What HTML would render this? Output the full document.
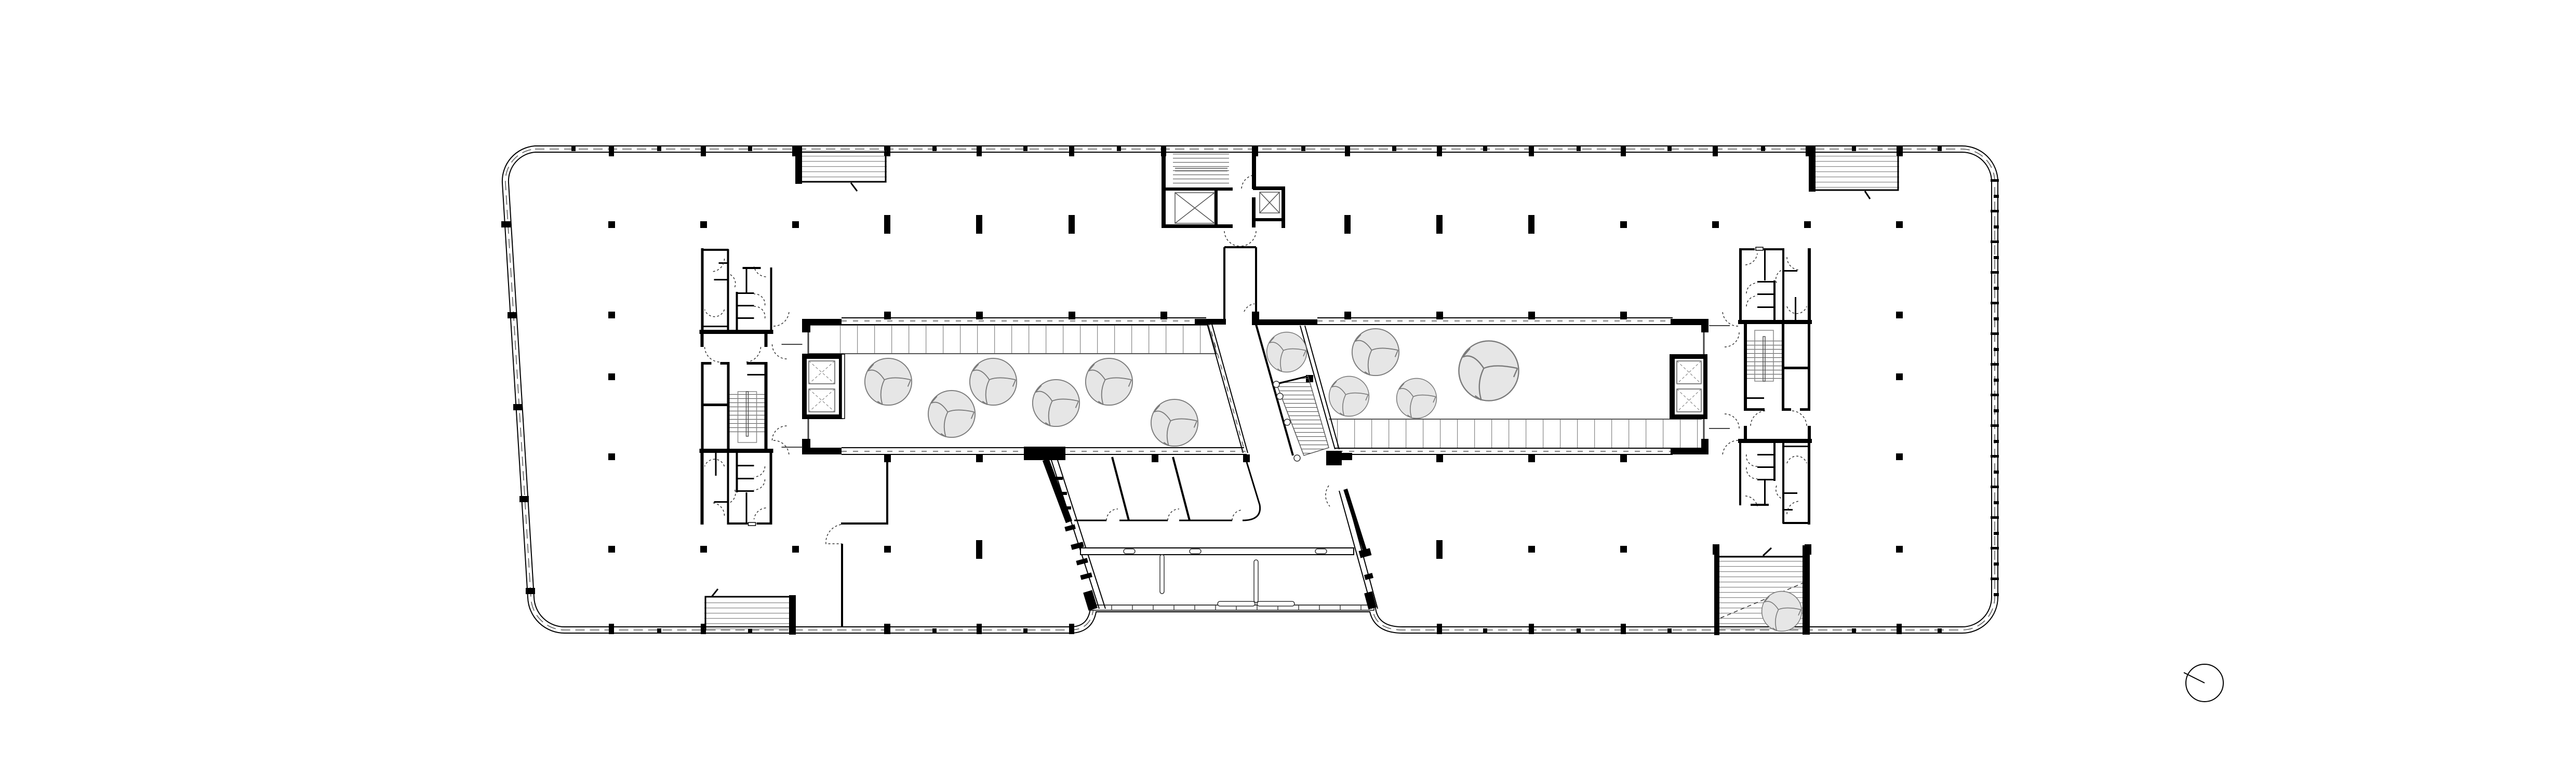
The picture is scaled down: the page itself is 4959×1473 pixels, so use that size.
<!DOCTYPE html>
<html><head><meta charset="utf-8"><style>html,body{margin:0;padding:0;background:#fff}svg{display:block}</style></head>
<body>
<svg xmlns="http://www.w3.org/2000/svg" width="4959" height="1473" viewBox="0 0 4959 1473">
<defs>
<path id="per" d="M1030,287 L3777,287 A63,63 0 0 1 3840,350 L3840,1150 A63,63 0 0 1 3777,1213 L2700,1213 Q2648,1213 2642,1172 L2105,1172 Q2100,1213 2060,1213 L1088,1213 A65,65 0 0 1 1022,1150 L973,352 A62,62 0 0 1 1030,287 Z"/>
<symbol id="tree" viewBox="-50 -50 100 100" overflow="visible">
<circle cx="0" cy="0" r="48" fill="#e6e6e6" stroke="#7a7a7a" stroke-width="2"/>
<path d="M-8,-4 Q-25,-30 -42,-22 M-8,-4 Q10,-12 46,-4 M-8,-4 Q-20,20 -12,47 M-42,-22 L-30,-36 M46,-4 L40,10 M-12,47 L-22,40" fill="none" stroke="#7a7a7a" stroke-width="2"/>
</symbol>
<pattern id="treadV" width="33" height="10" patternUnits="userSpaceOnUse"><line x1="0.5" y1="0" x2="0.5" y2="10" stroke="#888" stroke-width="1.5"/></pattern>
<pattern id="treadH" width="10" height="10" patternUnits="userSpaceOnUse"><line x1="0" y1="0.5" x2="10" y2="0.5" stroke="#888" stroke-width="1.5"/></pattern>
<pattern id="treadS" width="10" height="8" patternUnits="userSpaceOnUse"><line x1="0" y1="0.5" x2="10" y2="0.5" stroke="#555" stroke-width="1.2"/></pattern>
<g id="core">
 <rect x="3348" y="478" width="5" height="141" fill="#000"/>
 <rect x="3348" y="478" width="30" height="4" fill="#000"/>
 <rect x="3395" y="478" width="40" height="4" fill="#000"/>
 <rect x="3380" y="476" width="14" height="6" fill="none" stroke="#000" stroke-width="1.5"/>
 <rect x="3431" y="480" width="4" height="139" fill="#000"/>
 <rect x="3414" y="540" width="4" height="79" fill="#000"/>
 <rect x="3383" y="541" width="33" height="3" fill="#000"/>
 <rect x="3383" y="565" width="33" height="3" fill="#000"/>
 <rect x="3383" y="590" width="33" height="3" fill="#000"/>
 <rect x="3396" y="480" width="3" height="60" fill="#000"/>
 <rect x="3435" y="520" width="25" height="3" fill="#000"/>
 <rect x="3455" y="572" width="3" height="44" fill="#000"/>
 <rect x="3480" y="478" width="6" height="141" fill="#000"/>
 <rect x="3346" y="616" width="142" height="8" fill="#000"/>
 <rect x="3357" y="619" width="6" height="172" fill="#000"/>
 <rect x="3430" y="619" width="5" height="172" fill="#000"/>
 <rect x="3480" y="619" width="5" height="172" fill="#000"/>
 <rect x="3435" y="706" width="47" height="5" fill="#000"/>
 <rect x="3363" y="650" width="67" height="84" fill="url(#treadS)"/>
 <rect x="3378" y="636" width="36" height="98" fill="none" stroke="#888" stroke-width="1.5"/>
 <rect x="3394" y="648" width="4" height="86" fill="none" stroke="#555" stroke-width="1.5"/>
 <rect x="3357" y="786" width="40" height="5" fill="#000"/>
 <rect x="3430" y="786" width="18" height="5" fill="#000"/>
 <rect x="3465" y="786" width="20" height="5" fill="#000"/>
 <rect x="3363" y="765" width="33" height="3" fill="#000"/>
 <rect x="3346" y="845" width="142" height="8" fill="#000"/>
 <rect x="3357" y="820" width="6" height="28" fill="#000"/>
 <rect x="3480" y="820" width="6" height="28" fill="#000"/>
 <rect x="3348" y="848" width="4" height="125" fill="#000"/>
 <rect x="3414" y="848" width="4" height="78" fill="#000"/>
 <rect x="3383" y="874" width="33" height="3" fill="#000"/>
 <rect x="3383" y="898" width="33" height="3" fill="#000"/>
 <rect x="3383" y="922" width="33" height="3" fill="#000"/>
 <rect x="3396" y="925" width="3" height="48" fill="#000"/>
 <rect x="3370" y="970" width="35" height="4" fill="#000"/>
 <rect x="3431" y="850" width="4" height="158" fill="#000"/>
 <rect x="3435" y="858" width="47" height="3" fill="#000"/>
 <rect x="3435" y="948" width="25" height="3" fill="#000"/>
 <rect x="3435" y="980" width="16" height="3" fill="#000"/>
 <rect x="3480" y="848" width="5" height="162" fill="#000"/>
 <rect x="3432" y="1005" width="53" height="4" fill="#000"/>
 <g fill="none" stroke="#333" stroke-width="1.5" stroke-dasharray="4 4">
  <path d="M3360,510 A25,25 0 0 0 3383,488"/><path d="M3440,495 A25,25 0 0 0 3465,520"/>
  <path d="M3362,565 A20,20 0 0 1 3383,545"/><path d="M3362,590 A20,20 0 0 1 3383,570"/>
  <path d="M3440,590 A20,20 0 0 0 3478,590"/><path d="M3420,545 A20,20 0 0 1 3430,520"/>
  <path d="M3362,875 A20,20 0 0 0 3383,898"/><path d="M3362,900 A20,20 0 0 0 3383,922"/>
  <path d="M3440,892 A20,20 0 0 1 3478,892"/><path d="M3420,935 A20,20 0 0 0 3430,960"/>
  <path d="M3360,955 A25,25 0 0 1 3383,975"/><path d="M3440,990 A25,25 0 0 1 3465,965"/>
  <path d="M3398,791 A30,30 0 0 0 3370,820"/><path d="M3450,791 A30,30 0 0 1 3478,820"/>
  <path d="M3348,640 A28,28 0 0 1 3320,668"/><path d="M3348,825 A28,28 0 0 0 3320,797"/>
 </g>
 <path d="M3290,627 L3330,627 M3290,825 L3330,825" stroke="#444" stroke-width="2"/>
</g>
</defs>

<rect width="4959" height="1473" fill="#fff"/>

<!-- perimeter facade -->
<g fill="none" stroke-linejoin="round">
<use href="#per" stroke="#000" stroke-width="14"/>
<use href="#per" stroke="#fff" stroke-width="10"/>
<use href="#per" stroke="#555" stroke-width="1.5" stroke-dasharray="18 10"/>
</g>
<rect x="2100" y="1165" width="545" height="10" fill="#fff" stroke="#000" stroke-width="1.5"/>
<g stroke="#444" stroke-width="1.5">
<path d="M2140,1165v10M2180,1165v10M2220,1165v10M2260,1165v10M2300,1165v10M2340,1165v10M2380,1165v10M2420,1165v10M2460,1165v10M2500,1165v10M2540,1165v10M2580,1165v10M2620,1165v10"/>
</g>

<g fill="#000">
<rect x="1172" y="281" width="10" height="20"/><rect x="1349" y="281" width="10" height="20"/><rect x="1525" y="281" width="12" height="20"/><rect x="1702" y="281" width="12" height="20"/><rect x="1880" y="281" width="10" height="20"/><rect x="2058" y="281" width="10" height="20"/><rect x="2235" y="281" width="10" height="20"/><rect x="2412" y="281" width="10" height="20"/><rect x="2589" y="281" width="10" height="20"/><rect x="2766" y="281" width="10" height="20"/><rect x="2943" y="281" width="10" height="20"/><rect x="3120" y="281" width="10" height="20"/><rect x="3297" y="281" width="10" height="20"/><rect x="3476" y="281" width="12" height="20"/><rect x="3651" y="281" width="12" height="20"/>
<rect x="1100" y="281" width="8" height="10"/><rect x="1265" y="281" width="8" height="10"/><rect x="1440" y="281" width="8" height="10"/><rect x="1795" y="281" width="8" height="10"/><rect x="1970" y="281" width="8" height="10"/><rect x="2150" y="281" width="8" height="10"/><rect x="2505" y="281" width="8" height="10"/><rect x="2680" y="281" width="8" height="10"/><rect x="2855" y="281" width="8" height="10"/><rect x="3035" y="281" width="8" height="10"/><rect x="3210" y="281" width="8" height="10"/><rect x="3390" y="281" width="8" height="10"/><rect x="3565" y="281" width="8" height="10"/><rect x="3730" y="281" width="8" height="10"/>
<rect x="1172" y="1201" width="10" height="20"/><rect x="1349" y="1201" width="10" height="20"/><rect x="1702" y="1201" width="12" height="20"/><rect x="1880" y="1201" width="10" height="20"/><rect x="2058" y="1201" width="10" height="20"/><rect x="2766" y="1201" width="10" height="20"/><rect x="2943" y="1201" width="10" height="20"/><rect x="3120" y="1201" width="10" height="20"/><rect x="3651" y="1201" width="10" height="20"/>
<rect x="1265" y="1210" width="8" height="10"/><rect x="1440" y="1210" width="8" height="10"/><rect x="1795" y="1210" width="8" height="10"/><rect x="1970" y="1210" width="8" height="10"/><rect x="2855" y="1210" width="8" height="10"/><rect x="3035" y="1210" width="8" height="10"/><rect x="3210" y="1210" width="8" height="10"/><rect x="3565" y="1210" width="8" height="10"/><rect x="3730" y="1210" width="8" height="10"/>
<rect x="965" y="426" width="18" height="12"/><rect x="977" y="601" width="18" height="12"/><rect x="988" y="778" width="18" height="12"/><rect x="1000" y="955" width="18" height="12"/><rect x="1012" y="1132" width="18" height="12"/>
<rect x="3832" y="345" width="16" height="5"/><rect x="3838" y="375" width="10" height="6"/><rect x="3832" y="404" width="16" height="5"/><rect x="3838" y="434" width="10" height="6"/><rect x="3832" y="463" width="16" height="5"/><rect x="3838" y="493" width="10" height="6"/><rect x="3832" y="522" width="16" height="5"/><rect x="3838" y="552" width="10" height="6"/><rect x="3832" y="581" width="16" height="5"/><rect x="3838" y="611" width="10" height="6"/><rect x="3832" y="640" width="16" height="5"/><rect x="3838" y="670" width="10" height="6"/><rect x="3832" y="699" width="16" height="5"/><rect x="3838" y="729" width="10" height="6"/><rect x="3832" y="758" width="16" height="5"/><rect x="3838" y="788" width="10" height="6"/><rect x="3832" y="817" width="16" height="5"/><rect x="3838" y="847" width="10" height="6"/><rect x="3832" y="876" width="16" height="5"/><rect x="3838" y="906" width="10" height="6"/><rect x="3832" y="935" width="16" height="5"/><rect x="3838" y="965" width="10" height="6"/><rect x="3832" y="994" width="16" height="5"/><rect x="3838" y="1024" width="10" height="6"/><rect x="3832" y="1053" width="16" height="5"/><rect x="3838" y="1083" width="10" height="6"/><rect x="3832" y="1112" width="16" height="5"/><rect x="3838" y="1142" width="10" height="6"/>
</g>

<g fill="#000">
<rect x="1171" y="426" width="13" height="13"/><rect x="1348" y="426" width="13" height="13"/><rect x="1525" y="426" width="13" height="13"/>
<rect x="1702" y="414" width="12" height="36"/><rect x="1879" y="414" width="12" height="36"/><rect x="2057" y="414" width="12" height="36"/>
<rect x="2588" y="414" width="12" height="36"/><rect x="2765" y="414" width="12" height="36"/><rect x="2942" y="414" width="12" height="36"/>
<rect x="3119" y="426" width="13" height="13"/><rect x="3296" y="426" width="13" height="13"/><rect x="3473" y="426" width="13" height="13"/><rect x="3650" y="426" width="13" height="13"/>
<rect x="1171" y="600" width="13" height="13"/><rect x="1702" y="600" width="13" height="15"/><rect x="1879" y="600" width="13" height="15"/><rect x="2057" y="600" width="13" height="15"/><rect x="2234" y="600" width="13" height="15"/><rect x="2588" y="600" width="13" height="15"/><rect x="2765" y="600" width="13" height="15"/><rect x="2942" y="600" width="13" height="15"/><rect x="3119" y="600" width="13" height="15"/><rect x="3650" y="600" width="13" height="13"/>
<rect x="1171" y="719" width="13" height="13"/><rect x="3650" y="719" width="13" height="13"/>
<rect x="1171" y="873" width="13" height="13"/><rect x="1702" y="875" width="13" height="15"/><rect x="1879" y="875" width="13" height="15"/><rect x="2217" y="875" width="13" height="15"/><rect x="2393" y="875" width="13" height="15"/><rect x="2765" y="875" width="13" height="15"/><rect x="2942" y="875" width="13" height="15"/><rect x="3119" y="875" width="13" height="15"/><rect x="3650" y="873" width="13" height="13"/>
<rect x="1171" y="1051" width="13" height="13"/><rect x="1348" y="1051" width="13" height="13"/><rect x="1525" y="1051" width="13" height="13"/><rect x="1702" y="1051" width="13" height="13"/><rect x="1879" y="1040" width="12" height="36"/><rect x="2765" y="1040" width="12" height="36"/><rect x="2942" y="1051" width="13" height="13"/><rect x="3119" y="1051" width="13" height="13"/><rect x="3297" y="1048" width="13" height="20"/><rect x="3474" y="1048" width="13" height="20"/><rect x="3650" y="1051" width="13" height="13"/>
</g>

<g>
<rect x="1531" y="290" width="176" height="63" fill="url(#treadH)"/>
<rect x="1531" y="281" width="13" height="73" fill="#000"/><path d="M1544,350 H1705 V290" fill="none" stroke="#000" stroke-width="3"/>
<path d="M1638,352 L1650,368" stroke="#000" stroke-width="3"/>
<rect x="3482" y="292" width="174" height="76" fill="url(#treadH)"/>
<rect x="3482" y="281" width="13" height="88" fill="#000"/><path d="M3495,366 H3654 V292" fill="none" stroke="#000" stroke-width="3"/>
<path d="M3590,368 L3600,383" stroke="#000" stroke-width="3"/>
<rect x="1356" y="1152" width="175" height="62" fill="url(#treadH)"/>
<rect x="1519" y="1146" width="13" height="76" fill="#000"/><path d="M1358,1214 V1149 H1519" fill="none" stroke="#000" stroke-width="3"/>
<path d="M1370,1149 L1382,1134" stroke="#000" stroke-width="3"/>
<rect x="3305" y="1070" width="168" height="145" fill="url(#treadH)"/>
<rect x="3470" y="1050" width="14" height="172" fill="#000"/><rect x="3300" y="1068" width="10" height="155" fill="#000"/>
<path d="M3310,1072 H3470" fill="none" stroke="#000" stroke-width="3"/>
<path d="M3394,1070 L3410,1055" stroke="#000" stroke-width="3"/>
<path d="M3312,1190 L3470,1123" stroke="#333" stroke-width="1.5" stroke-dasharray="8 6"/>
<use href="#tree" x="3390" y="1137" width="80" height="80"/>
</g>

<g fill="#000">
<rect x="2236" y="281" width="8" height="158"/><rect x="2236" y="432" width="137" height="7"/>
<rect x="2236" y="361" width="137" height="6"/><rect x="2338" y="363" width="6" height="72"/>
<rect x="2410" y="281" width="8" height="83"/>
<rect x="2412" y="359" width="62" height="7"/><rect x="2467" y="359" width="7" height="80"/><rect x="2417" y="420" width="52" height="6"/>
<rect x="2410" y="380" width="7" height="58"/>
</g>
<rect x="2258" y="292" width="108" height="66" fill="url(#treadS)"/>
<g stroke="#555" stroke-width="1.5" fill="none">
<path d="M2262,324 H2363 M2262,329 H2363"/>
<rect x="2262" y="371" width="76" height="59"/><path d="M2262,371 L2338,430 M2338,371 L2262,430"/>
<rect x="2425" y="370" width="38" height="40"/><path d="M2425,370 L2463,410 M2463,370 L2425,410"/>
</g>
<g stroke="#000" stroke-width="4"><path d="M2357,476 V617 M2418,476 V617 M2357,476 H2418"/></g>
<g fill="none" stroke="#333" stroke-width="1.5" stroke-dasharray="4 4">
<path d="M2357,445 A30,30 0 0 0 2387,474"/><path d="M2418,445 A30,30 0 0 1 2388,474"/>
<path d="M2390,363 A28,28 0 0 1 2410,338"/><path d="M2395,600 A25,25 0 0 1 2415,585"/>
</g>

<!-- left atrium -->
<g>
<path d="M1556,626 H2325 L2395,870 H1556 Z" fill="#fff"/>
<rect x="1586" y="626" width="740" height="55" fill="url(#treadV)"/>
<path d="M1556,626 H2326 L2342,681 H1556" fill="none" stroke="#555" stroke-width="2"/>
<g stroke="#000" stroke-width="2" fill="none">
<path d="M1620,612 H2322 M1620,625 H2326 M1620,862 H2395 M1620,875 H2400 M2322,617 L2393,872 M2331,617 L2402,872"/>
</g>
<path d="M1620,618 H2322 M1620,869 H2398 M2326,617 L2397,872" stroke="#555" stroke-width="1.5" stroke-dasharray="10 12"/>
<path d="M1556,640 V845" stroke="#444" stroke-width="3"/>
<g fill="#000">
<rect x="1544" y="614" width="76" height="12"/><rect x="1544" y="614" width="16" height="26"/>
<rect x="1544" y="845" width="16" height="30"/><rect x="1544" y="862" width="76" height="13"/>
<rect x="1544" y="681" width="79" height="126"/>
<rect x="1971" y="860" width="80" height="26"/>
<rect x="2300" y="614" width="60" height="11"/>
</g>
<rect x="1553" y="691" width="62" height="107" fill="#fff"/>
<rect x="1620" y="682" width="6" height="124" fill="#fff" stroke="#000" stroke-width="1.5"/>
<g fill="#fff" stroke="#555" stroke-width="1.5">
<rect x="1557" y="695" width="50" height="44"/><rect x="1557" y="749" width="50" height="44"/>
</g>
<path d="M1557,695 L1607,739 M1607,695 L1557,739 M1557,749 L1607,793 M1607,749 L1557,793" stroke="#888" stroke-width="1.2" stroke-dasharray="5 4"/>
<use href="#tree" x="1663" y="688" width="94" height="94"/>
<use href="#tree" x="1785" y="750" width="94" height="94"/>
<use href="#tree" x="1865" y="688" width="94" height="94"/>
<use href="#tree" x="1986" y="729" width="94" height="94"/>
<use href="#tree" x="2088" y="688" width="94" height="94"/>
<use href="#tree" x="2214" y="767" width="94" height="94"/>
</g>

<!-- right atrium -->
<g>
<path d="M2418,625 H3276 V863 H2489 Z" fill="#fff"/>
<rect x="2562" y="807" width="714" height="56" fill="url(#treadV)"/>
<path d="M2558,807 H3276" stroke="#555" stroke-width="2"/>
<g stroke="#000" stroke-width="2" fill="none">
<path d="M2536,612 H3220 M2536,625 H3220 M2570,863 H3220 M2575,875 H3220 M2503,627 L2570,865 M2512,627 L2578,865"/>
</g>
<path d="M2536,618 H3220 M2575,869 H3220" stroke="#555" stroke-width="1.5" stroke-dasharray="10 12"/>
<path d="M2418,625 L2489,877" stroke="#000" stroke-width="4"/>
<path d="M3280,640 V845" stroke="#444" stroke-width="3"/>
<g fill="#000">
<rect x="2410" y="615" width="126" height="11"/><rect x="2410" y="600" width="14" height="26"/>
<rect x="3216" y="614" width="73" height="12"/><rect x="3275" y="614" width="14" height="26"/>
<rect x="3275" y="845" width="14" height="30"/><rect x="3216" y="862" width="73" height="13"/>
<rect x="3214" y="682" width="73" height="125"/>
<rect x="2553" y="868" width="30" height="28"/><rect x="2578" y="872" width="25" height="14"/>
<rect x="2514" y="722" width="14" height="14"/>
</g>
<rect x="3224" y="691" width="55" height="107" fill="#fff"/>
<g fill="#fff" stroke="#555" stroke-width="1.5">
<rect x="3228" y="695" width="47" height="44"/><rect x="3228" y="749" width="47" height="44"/>
</g>
<path d="M3228,695 L3275,739 M3275,695 L3228,739 M3228,749 L3275,793 M3275,749 L3228,793" stroke="#888" stroke-width="1.2" stroke-dasharray="5 4"/>
<path d="M2457,738 L2518,724 L2558,862 L2510,877 Z" fill="url(#treadS)" stroke="#555" stroke-width="1.5"/>
<path d="M2455,740 L2515,725" stroke="#000" stroke-width="3"/>
<g fill="#fff" stroke="#333" stroke-width="1.5"><circle cx="2457" cy="740" r="6"/><circle cx="2464" cy="763" r="6"/><circle cx="2478" cy="813" r="6"/><circle cx="2497" cy="882" r="6"/></g>
<use href="#tree" x="2437" y="638" width="80" height="80"/>
<use href="#tree" x="2601" y="631" width="94" height="94"/>
<use href="#tree" x="2557" y="723" width="80" height="80"/>
<use href="#tree" x="2687" y="727" width="80" height="80"/>
<use href="#tree" x="2806" y="654" width="120" height="120"/>
</g>

<use href="#core"/>
<use href="#core" transform="matrix(-1 0 0 -1 4834.5 1488)"/>

<path d="M1708,890 V1008 H1619 M1621,1047 V1208" fill="none" stroke="#000" stroke-width="4"/>
<path d="M1619,1010 A35,35 0 0 0 1590,1047 H1621" fill="none" stroke="#333" stroke-width="1.5" stroke-dasharray="4 4"/>

<g>
<path d="M2013,885 L2058,1005" stroke="#000" stroke-width="13"/>
<path d="M2022,880 L2116,1172 M2034,880 L2128,1172" stroke="#000" stroke-width="2" fill="none"/>
<g fill="#000">
<rect x="2050" y="1012" width="20" height="9" transform="rotate(-15 2060 1016)"/>
<rect x="2062" y="1046" width="24" height="10" transform="rotate(-15 2074 1051)"/>
<rect x="2072" y="1077" width="22" height="9" transform="rotate(-15 2083 1081)"/>
<rect x="2080" y="1105" width="22" height="9" transform="rotate(-15 2091 1109)"/>
<rect x="2090" y="1138" width="18" height="36" transform="rotate(-17 2099 1156)"/>
<rect x="2030" y="918" width="16" height="6"/><rect x="2038" y="947" width="16" height="6"/><rect x="2046" y="975" width="16" height="6"/>
</g>
<path d="M2590,942 L2628,1062" stroke="#000" stroke-width="8"/>
<path d="M2578,945 L2641,1172 M2590,945 L2652,1172" stroke="#000" stroke-width="2" fill="none"/>
<g fill="#000">
<rect x="2617" y="1058" width="22" height="14" transform="rotate(-15 2628 1065)"/>
<rect x="2627" y="1105" width="16" height="10" transform="rotate(-15 2635 1110)"/>
<rect x="2630" y="1140" width="16" height="32" transform="rotate(-15 2638 1156)"/>
</g>
<path d="M2141,880 L2173,1002 M2258,880 L2290,1002" stroke="#000" stroke-width="4"/>
<path d="M2068,1002 H2130 M2155,1002 H2248 M2270,1002 H2372" stroke="#000" stroke-width="3" fill="none"/>
<path d="M2400,890 L2425,972 Q2430,1002 2392,1002" fill="none" stroke="#000" stroke-width="3"/>
<g fill="none" stroke="#333" stroke-width="1.5" stroke-dasharray="4 4">
<path d="M2130,1002 A22,22 0 0 1 2152,980"/><path d="M2248,1002 A22,22 0 0 1 2270,980"/><path d="M2372,1002 A20,20 0 0 1 2392,982"/>
<path d="M2558,935 A32,32 0 0 0 2560,975"/>
</g>
<rect x="2080" y="1055" width="526" height="13" fill="#fff" stroke="#000" stroke-width="2"/>
<g fill="#fff" stroke="#333" stroke-width="1.5">
<rect x="2163" y="1057" width="22" height="9" rx="4.5"/><rect x="2290" y="1057" width="22" height="9" rx="4.5"/><rect x="2532" y="1057" width="22" height="9" rx="4.5"/>
<rect x="2233" y="1068" width="8" height="75" rx="4"/><rect x="2414" y="1078" width="8" height="82" rx="4"/>
<rect x="2344" y="1158" width="72" height="9" rx="4.5"/><rect x="2420" y="1158" width="72" height="9" rx="4.5"/>
</g>
</g>

<g fill="none" stroke="#333" stroke-width="1.5" stroke-dasharray="4 4">
<path d="M1489,628 A30,30 0 0 0 1519,598"/><path d="M1489,848 A30,30 0 0 1 1519,878"/>
<path d="M3346,628 A30,30 0 0 1 3316,598"/><path d="M3346,848 A30,30 0 0 0 3316,878"/>
</g>

<circle cx="4244" cy="1315" r="36" fill="none" stroke="#000" stroke-width="2"/>
<path d="M4244,1315 L4204,1295" stroke="#000" stroke-width="2"/>
</svg>
</body></html>
